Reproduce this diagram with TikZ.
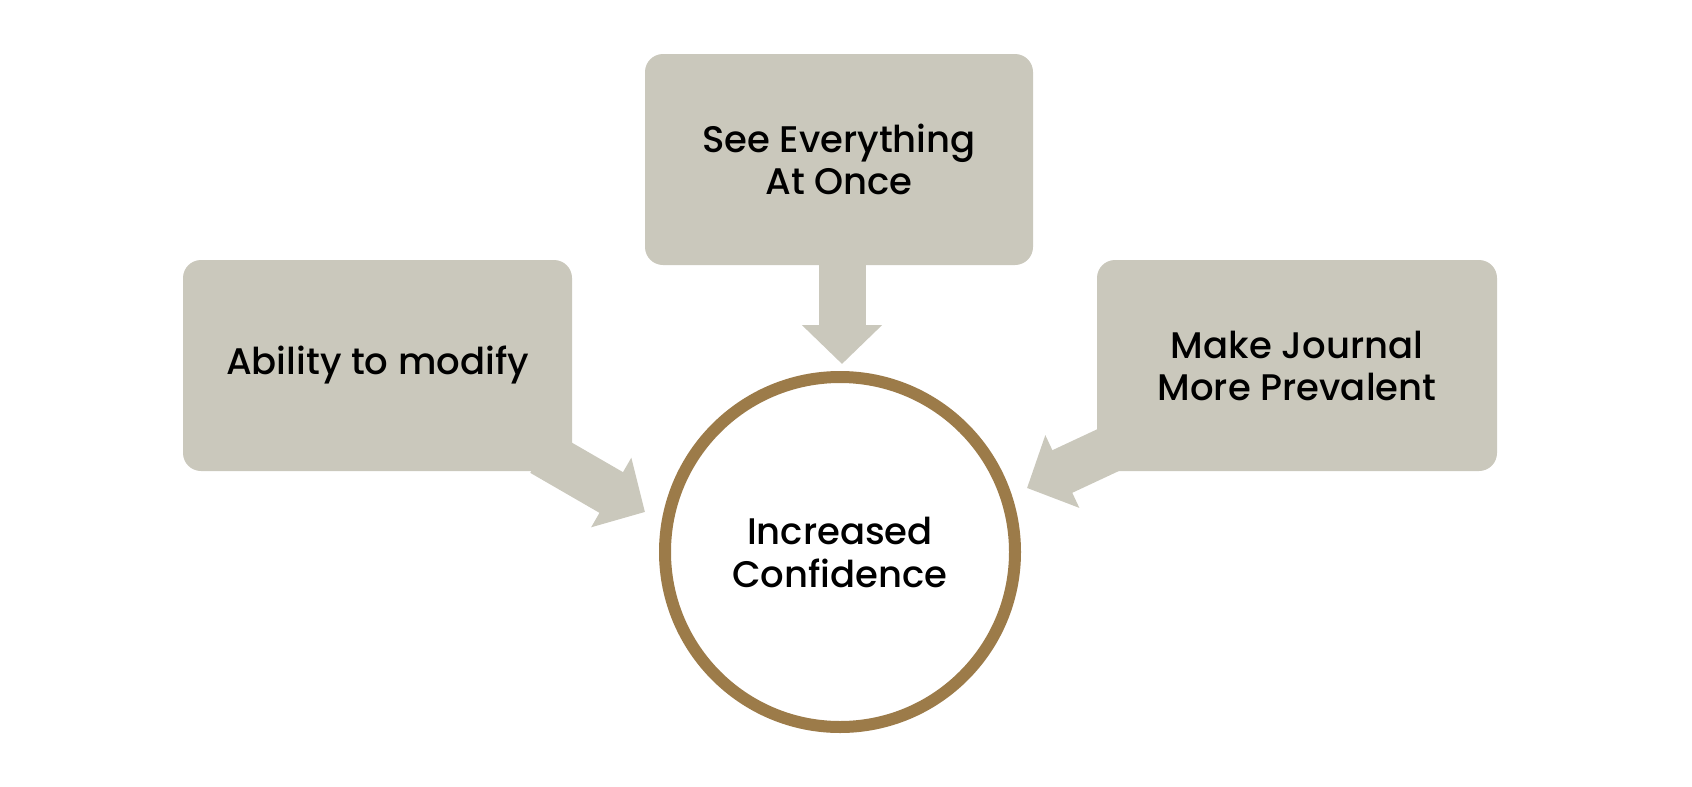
\documentclass[tikz,border=0pt]{standalone}
\usepackage{fontspec}
\setmainfont{Poppins}[UprightFont=* Medium]
\usetikzlibrary{arrows.meta}
\definecolor{boxgray}{HTML}{CAC8BC}
\definecolor{ringbrown}{HTML}{9C7B49}
\tikzset{
  card/.style={fill=boxgray, draw=none, rounded corners=18pt, minimum height=211pt, inner sep=0pt, align=center, font=\fontsize{37}{42}\selectfont},
  bigarrow/.style={draw=boxgray, line width=47pt, -{Triangle[width=78pt,length=39pt]}, boxgray},
  ring/.style={circle, draw=ringbrown, fill=white, line width=12pt, minimum size=350pt, inner sep=0pt, align=center, font=\fontsize{37}{43}\selectfont}
}
\begin{document}
\begin{tikzpicture}[x=1pt,y=-1pt]
\useasboundingbox (0,0) rectangle (1692,787);
% arrow endpoints
\coordinate (sL) at (542,452.5);
\coordinate (tL) at (645,512);
\coordinate (sT) at (842,240);
\coordinate (tT) at (842,364);
\coordinate (sR) at (1134,438);
\coordinate (tR) at (1027,488);
\draw[bigarrow] (sL) -- (tL);
\draw[bigarrow] (sT) -- (tT);
\draw[bigarrow] (sR) -- (tR);
\node[card, minimum width=389pt] (abl) at (377.5,365.5) {Ability to modify};
\node[card, minimum width=388pt] (see) at (839,159.5) {See Everything\\At Once};
\node[card, minimum width=400pt] (mak) at (1297,365.5) {Make Journal\\More Prevalent};
\node[ring] (inc) at (840,552) {Increased\\Confidence};
\end{tikzpicture}
\end{document}
